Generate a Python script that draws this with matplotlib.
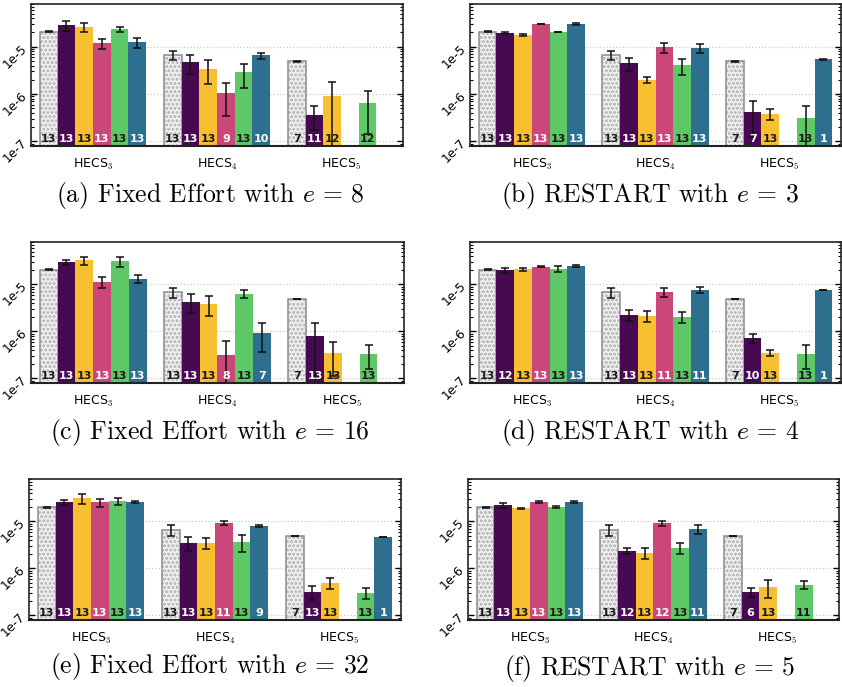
import numpy as np
import matplotlib
matplotlib.use("Agg")
import matplotlib.pyplot as plt
from matplotlib.ticker import LogLocator, NullFormatter, FixedLocator, FixedFormatter

plt.rcParams["mathtext.fontset"] = "cm"
plt.rcParams["hatch.linewidth"] = 0.7

# groups / series
groups = ["HECS$_3$", "HECS$_4$", "HECS$_5$"]
colors = ["#efefef", "#470a52", "#f8bf30", "#cb4779", "#5fc866", "#2e6f8f"]
text_colors = ["#1a1a1a", "white", "#1a1a1a", "white", "#1a1a1a", "white"]

# values per group (rows: HECS3, HECS4, HECS5; cols: 6 series), None = no bar
val_a = [[2.08e-5, 2.83e-5, 2.61e-5, 1.18e-5, 2.33e-5, 1.24e-5],
         [6.76e-6, 4.73e-6, 3.47e-6, 1.03e-6, 2.86e-6, 6.54e-6],
         [4.89e-6, 3.67e-7, 9.29e-7, None, 6.6e-7, None]]
err_a = [[0.03e-5, 0.72e-5, 0.61e-5, 0.29e-5, 0.28e-5, 0.30e-5],
         [1.5e-6, 2.1e-6, 1.8e-6, 0.69e-6, 1.5e-6, 0.92e-6],
         [0.02e-6, 1.9e-7, 8.8e-7, 0, 5.2e-7, 0]]
n_a = [[13, 13, 13, 13, 13, 13], [13, 13, 13, 9, 13, 10], [7, 11, 12, None, 12, None]]

val_b = [[2.08e-5, 1.95e-5, 1.77e-5, 3.03e-5, 2.05e-5, 3.03e-5],
         [6.76e-6, 4.44e-6, 2.03e-6, 9.84e-6, 4.02e-6, 9.5e-6],
         [4.89e-6, 4.26e-7, 3.86e-7, None, 3.18e-7, 5.39e-6]]
err_b = [[0.03e-5, 0.05e-5, 0.07e-5, 0.05e-5, 0.04e-5, 0.2e-5],
         [1.5e-6, 1.4e-6, 0.3e-6, 2.3e-6, 1.5e-6, 2.1e-6],
         [0.02e-6, 3.0e-7, 1.0e-7, 0, 2.45e-7, 0.02e-6]]
n_b = [[13, 13, 13, 13, 13, 13], [13, 13, 13, 13, 13, 13], [7, 7, 13, None, 13, 1]]

val_c = [[2.05e-5, 2.97e-5, 3.28e-5, 1.12e-5, 3.12e-5, 1.30e-5],
         [6.76e-6, 4.29e-6, 3.83e-6, 3.18e-7, 6.24e-6, 9.29e-7],
         [4.85e-6, 8.03e-7, 3.5e-7, None, 3.33e-7, None]]
err_c = [[0.06e-5, 0.42e-5, 0.65e-5, 0.29e-5, 0.8e-5, 0.25e-5],
         [1.5e-6, 1.85e-6, 1.75e-6, 3.0e-7, 1.2e-6, 5.6e-7],
         [0.02e-6, 6.9e-7, 2.4e-7, 0, 1.76e-7, 0]]
n_c = [[13, 13, 13, 13, 13, 13], [13, 13, 13, 8, 13, 7], [7, 13, 13, None, 13, None]]

val_d = [[2.05e-5, 2.01e-5, 2.11e-5, 2.37e-5, 2.11e-5, 2.45e-5],
         [6.76e-6, 2.24e-6, 2.13e-6, 6.87e-6, 2.03e-6, 7.58e-6],
         [4.85e-6, 7.28e-7, 3.5e-7, None, 3.33e-7, 7.58e-6]]
err_d = [[0.06e-5, 0.28e-5, 0.17e-5, 0.05e-5, 0.3e-5, 0.15e-5],
         [1.5e-6, 0.57e-6, 0.55e-6, 1.35e-6, 0.52e-6, 1.05e-6],
         [0.02e-6, 1.7e-7, 0.56e-7, 0, 1.76e-7, 0.03e-6]]
n_d = [[13, 12, 13, 13, 13, 13], [13, 13, 13, 11, 13, 11], [7, 10, 13, None, 13, 1]]

val_e = [[2.0e-5, 2.57e-5, 3.12e-5, 2.57e-5, 2.7e-5, 2.57e-5],
         [6.6e-6, 3.47e-6, 3.47e-6, 9.37e-6, 3.65e-6, 7.96e-6],
         [4.85e-6, 3.18e-7, 4.93e-7, None, 3.03e-7, 4.66e-6]]
err_e = [[0.06e-5, 0.36e-5, 0.8e-5, 0.5e-5, 0.5e-5, 0.1e-5],
         [1.6e-6, 1.1e-6, 0.9e-6, 1.1e-6, 1.4e-6, 0.3e-6],
         [0.02e-6, 1.0e-7, 1.25e-7, 0, 0.77e-7, 0.02e-6]]
n_e = [[13, 13, 13, 13, 13, 13], [13, 13, 13, 11, 13, 9], [7, 13, 13, None, 13, 1]]

val_f = [[2.0e-5, 2.22e-5, 1.89e-5, 2.57e-5, 2.01e-5, 2.57e-5],
         [6.6e-6, 2.35e-6, 2.13e-6, 9.22e-6, 2.72e-6, 6.87e-6],
         [4.85e-6, 3.18e-7, 4.06e-7, None, 4.47e-7, None]]
err_f = [[0.06e-5, 0.3e-5, 0.07e-5, 0.1e-5, 0.07e-5, 0.1e-5],
         [1.6e-6, 0.33e-6, 0.55e-6, 1.25e-6, 0.7e-6, 1.35e-6],
         [0.02e-6, 0.68e-7, 1.7e-7, 0, 0.88e-7, 0]]
n_f = [[13, 13, 13, 13, 13, 13], [13, 12, 13, 12, 13, 11], [7, 6, 13, None, 11, None]]

captions = [r"(a) Fixed Effort with $e\,=\,8$", r"(b) RESTART with $e\,=\,3$",
            r"(c) Fixed Effort with $e\,=\,16$", r"(d) RESTART with $e\,=\,4$",
            r"(e) Fixed Effort with $e\,=\,32$", r"(f) RESTART with $e\,=\,5$"]

panels = [(val_a, err_a, n_a), (val_b, err_b, n_b), (val_c, err_c, n_c),
          (val_d, err_d, n_d), (val_e, err_e, n_e), (val_f, err_f, n_f)]

W, H = 842, 687
# axes boxes in pixels: left, top, right, bottom
boxes = [(31, 4, 403, 146), (470, 4, 841, 146),
         (31, 242, 404, 383), (470, 242, 841, 383),
         (29, 479, 401, 620), (468, 479, 839, 620)]
cap_pos = [(210, 196), (650, 196), (210, 432), (650, 432), (210, 666), (650, 668)]

fig = plt.figure(figsize=(W / 100, H / 100), dpi=100)

bw = 0.143
for k, ((vals, errs, ns), box) in enumerate(zip(panels, boxes)):
    l, t, r, b = box
    ax = fig.add_axes([l / W, 1 - b / H, (r - l) / W, (b - t) / H])
    ax.set_yscale("log")
    ax.set_ylim(8e-8, 8e-5)
    ax.set_xlim(-0.5, 2.5)
    ax.grid(axis="y", which="major", color="#cccccc", linestyle=":", linewidth=0.9)
    ax.set_axisbelow(True)

    for g in range(3):
        for s in range(6):
            v = vals[g][s]
            if v is None:
                continue
            x = g + (s - 2.5) * bw
            if s == 0:
                # light dotted fill, then a darker outline on top
                ax.bar(x, v, width=bw, color=colors[0], edgecolor="#bdbdbd",
                       hatch="oooo", linewidth=0, zorder=2)
                ax.bar(x, v, width=bw, color="none", edgecolor="#8c8c8c",
                       linewidth=1.1, zorder=2)
            else:
                ax.bar(x, v, width=bw, color=colors[s], edgecolor="none", zorder=2)
            ax.errorbar(x, v, yerr=errs[g][s], fmt="none", ecolor="#111111",
                        elinewidth=1.1, capsize=3.2, capthick=1.1, zorder=3)
            ax.text(x, 1.12e-7, str(ns[g][s]), ha="center", va="center",
                    fontsize=8, fontweight="bold", color=text_colors[s], zorder=4)

    ax.xaxis.set_major_locator(FixedLocator([0, 1, 2]))
    ax.xaxis.set_major_formatter(FixedFormatter(groups))
    ax.tick_params(axis="x", length=0, pad=8, labelsize=9)
    ax.yaxis.set_major_locator(FixedLocator([1e-7, 1e-6, 1e-5]))
    ax.yaxis.set_major_formatter(FixedFormatter(["1e-7", "1e-6", "1e-5"]))
    ax.yaxis.set_minor_locator(LogLocator(base=10, subs=np.arange(2, 10)))
    ax.yaxis.set_minor_formatter(NullFormatter())
    ax.tick_params(axis="y", which="major", direction="in", length=4, width=1,
                   left=True, right=True, labelsize=9, labelrotation=45, pad=1)
    ax.tick_params(axis="y", which="minor", direction="in", length=2, width=0.8,
                   left=True, right=True)
    for sp in ax.spines.values():
        sp.set_color("#222222")
        sp.set_linewidth(1.2)
    ax.spines["bottom"].set_linewidth(1.5)

    cx, cy = cap_pos[k]
    fig.text(cx / W, 1 - cy / H, captions[k], ha="center", va="center",
             fontsize=18.5, family="cmr10")

fig.savefig("out.png", dpi=100)
